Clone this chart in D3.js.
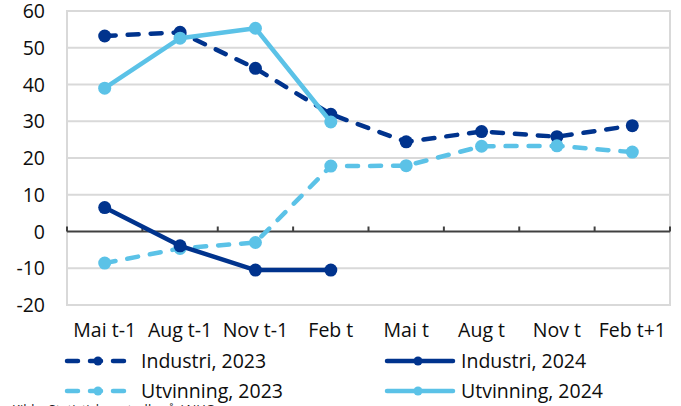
<!DOCTYPE html>
<html lang="no">
<head>
<meta charset="UTF-8">
<title>Industri og utvinning</title>
<style>
  body { margin: 0; background: #fff; }
  svg { display: block; font-family: "Open Sans", sans-serif; }
  .grid line { stroke: #d9d9d9; stroke-width: 2px; }
  .ylab, .xlab, .leg { fill: #0d0d0d; font-size: 19.5px; }
</style>
<script src="https://d3js.org/d3.v7.min.js"></script>
</head>
<body>
<div id="chart"></div>
<script>
  const categories = ["Mai t-1", "Aug t-1", "Nov t-1", "Feb t", "Mai t", "Aug t", "Nov t", "Feb t+1"];
  const yTicks = [-20, -10, 0, 10, 20, 30, 40, 50, 60];

  const industri2023 = [53.2, 54.2, 44.4, 31.9, 24.4, 27.2, 25.8, 28.8];
  const utvinning2023 = [-8.6, -4.6, -3.0, 17.8, 17.9, 23.2, 23.3, 21.6];
  const industri2024 = [6.5, -3.9, -10.5, -10.5];
  const utvinning2024 = [39.0, 52.6, 55.3, 29.8];

  const darkBlue = "#00338d";
  const lightBlue = "#5bc2e7";

  const series = [
    { name: "Industri, 2023", values: industri2023, color: darkBlue, dashed: true },
    { name: "Industri, 2024", values: industri2024, color: darkBlue, dashed: false },
    { name: "Utvinning, 2023", values: utvinning2023, color: lightBlue, dashed: true },
    { name: "Utvinning, 2024", values: utvinning2024, color: lightBlue, dashed: false }
  ];

  const W = 681, H = 406;
  const plot = { left: 67, right: 670, top: 11, bottom: 305 };

  const svg = d3.select("#chart").append("svg")
    .attr("width", W).attr("height", H);

  const x = d3.scaleBand().domain(categories).range([plot.left, plot.right]);
  const y = d3.scaleLinear().domain([-20, 60]).range([plot.bottom, plot.top]);

  // grid lines
  svg.append("g").attr("class", "grid")
    .selectAll("line").data(yTicks.filter(d => d !== 0))
    .enter().append("line")
    .attr("x1", plot.left).attr("x2", plot.right)
    .attr("y1", d => y(d)).attr("y2", d => y(d));

  // plot border
  svg.append("rect")
    .attr("x", plot.left).attr("y", plot.top)
    .attr("width", plot.right - plot.left).attr("height", plot.bottom - plot.top)
    .attr("fill", "none").attr("stroke", "#d9d9d9").attr("stroke-width", 2);

  // y labels
  svg.append("g").selectAll("text").data(yTicks)
    .enter().append("text")
    .attr("class", "ylab")
    .attr("x", 45).attr("y", d => y(d))
    .attr("text-anchor", "end").attr("dy", "0.36em")
    .text(d => d);

  // zero axis with ticks pointing up
  const xAxis = d3.axisTop(x).tickSize(5).tickSizeOuter(0).tickFormat("");
  const ax = svg.append("g").attr("transform", `translate(0,${y(0)})`).call(xAxis);
  ax.select(".domain").attr("stroke", "#404040").attr("stroke-width", 2)
    .attr("d", `M${plot.left},0H${plot.right}`);
  ax.selectAll(".tick line").attr("stroke", "#404040").attr("stroke-width", 2)
    .attr("transform", `translate(${-x.bandwidth() / 2},0)`);
  ax.append("line").attr("x1", plot.right).attr("x2", plot.right)
    .attr("y1", -5).attr("y2", 0).attr("stroke", "#404040").attr("stroke-width", 2);

  // category labels
  svg.append("g").selectAll("text").data(categories)
    .enter().append("text")
    .attr("class", "xlab")
    .attr("x", d => x(d) + x.bandwidth() / 2).attr("y", 337)
    .attr("text-anchor", "middle")
    .text(d => d);

  const line = d3.line()
    .x((d, i) => x(categories[i]) + x.bandwidth() / 2)
    .y(d => y(d));

  const drawOrder = [series[0], series[2], series[1], series[3]];
  drawOrder.forEach(s => {
    const g = svg.append("g");
    g.append("path")
      .attr("d", line(s.values))
      .attr("fill", "none")
      .attr("stroke", s.color)
      .attr("stroke-width", 4.5)
      .attr("stroke-linecap", "round")
      .attr("stroke-linejoin", "round")
      .attr("stroke-dasharray", s.dashed ? "11,12" : null);
    g.selectAll("circle").data(s.values)
      .enter().append("circle")
      .attr("cx", (d, i) => x(categories[i]) + x.bandwidth() / 2)
      .attr("cy", d => y(d))
      .attr("r", 6.5)
      .attr("fill", s.color);
  });

  // legend
  const legPos = [
    { s: series[0], x: 65, y: 361 },
    { s: series[1], x: 385, y: 361 },
    { s: series[2], x: 65, y: 391 },
    { s: series[3], x: 385, y: 391 }
  ];
  legPos.forEach(p => {
    const g = svg.append("g").attr("transform", `translate(${p.x},${p.y})`);
    g.append("line")
      .attr("x1", 2).attr("x2", 68)
      .attr("stroke", p.s.color).attr("stroke-width", 4.5)
      .attr("stroke-linecap", "round")
      .attr("stroke-dasharray", p.s.dashed ? "11,12" : null);
    g.append("circle").attr("cx", 33).attr("r", 4.5).attr("fill", p.s.color);
    g.append("text").attr("class", "leg")
      .attr("x", 76).attr("dy", "0.36em")
      .text(p.s.name);
  });

  // source line, cut off at bottom edge
  svg.append("text")
    .attr("x", 12).attr("y", 414)
    .attr("font-size", 13).attr("fill", "#1a1a1a")
    .text("Kilde: Statistisk sentralbyrå / NHO");
</script>
</body>
</html>
